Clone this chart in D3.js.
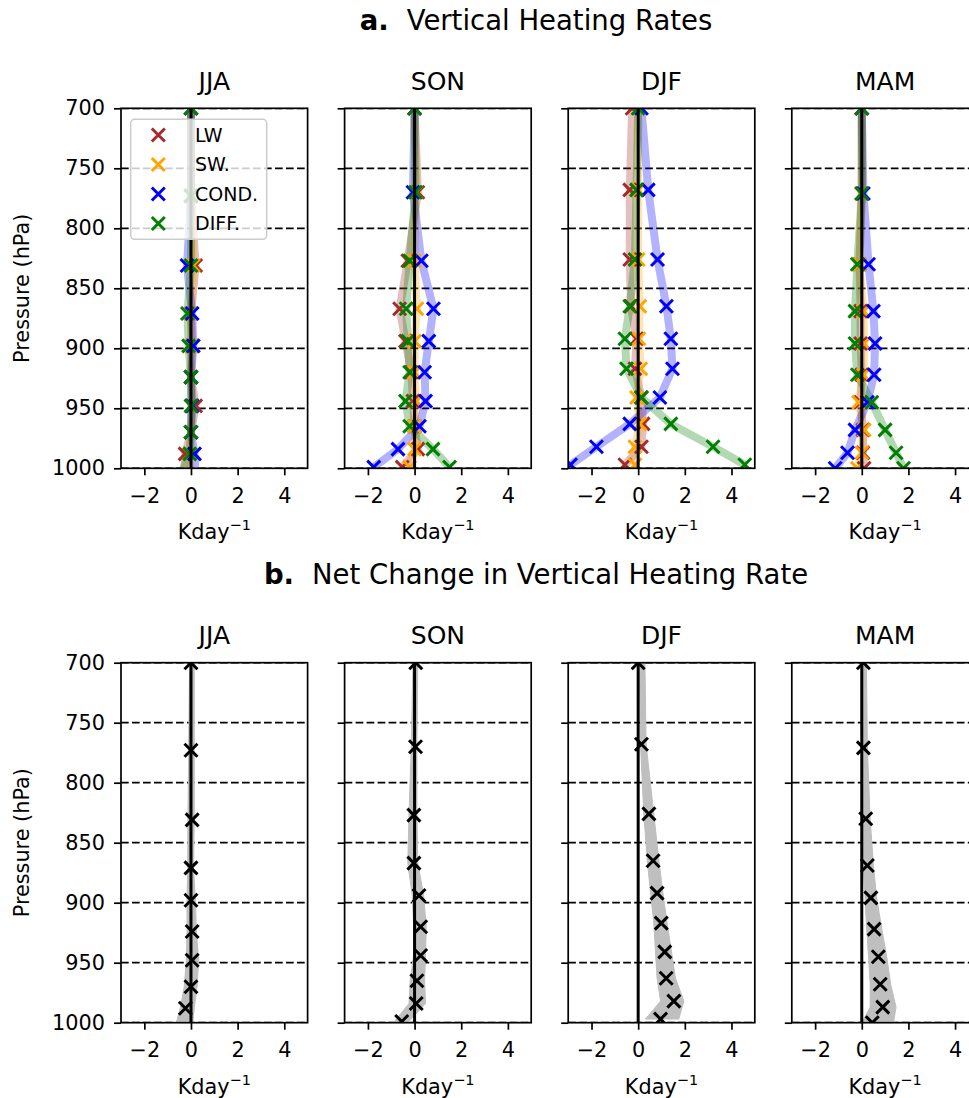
<!DOCTYPE html>
<html><head><meta charset="utf-8">
<script src="https://cdn.jsdelivr.net/npm/d3@7"></script>
<style>body{margin:0;background:#fff} svg{display:block;font-family:"DejaVu Sans",sans-serif}</style>
</head><body><svg id="c" width="969" height="1098"></svg>
<script>
// ---------- data ----------
const seasons = ["JJA", "SON", "DJF", "MAM"];
const yTicks = [700, 750, 800, 850, 900, 950, 1000];
const xTicks = [-2, 0, 2, 4];
const seriesNames = ["LW", "SW.", "COND.", "DIFF."];
const seriesColors = ["#a52a2a", "#ffa500", "#0000ff", "#008000"];

// pressure of each model level (hPa), per season
const presJJA = [700, 773, 831, 871, 898, 924, 948, 970, 988, 1008];
const presSON = [700, 770, 827, 867, 894, 920, 944, 965, 984, 999];
const presDJF = [700, 768, 826, 865, 892, 917, 941, 963, 982, 997];
const presMAM = [700, 771, 830, 869, 896, 922, 945, 968, 987, 1000];

// heating rates (K/day)
const lwJJA   = [0, 0, 0.2, 0, 0.05, 0, 0.2, 0, -0.25, -0.3];
const swJJA   = [0, 0, 0.1, 0, 0, 0, 0.05, 0, -0.05, 0];
const condJJA = [0, 0, -0.17, 0.05, 0.1, 0, 0.05, 0, 0.15, 0.2];
const diffJJA = [0, 0, 0, -0.15, -0.1, 0, 0, 0, -0.05, -0.5];

const lwSON   = [0, 0.14, -0.29, -0.64, -0.39, -0.14, -0.07, 0, 0.14, -0.53];
const swSON   = [0, 0.05, 0, 0.1, 0, 0, 0.07, 0, 0, -0.21];
const condSON = [0, -0.07, 0.29, 0.81, 0.61, 0.43, 0.47, 0.21, -0.71, -1.75];
const diffSON = [0, 0.04, -0.21, -0.36, -0.29, -0.21, -0.39, -0.21, 0.79, 1.5];

const lwDJF   = [-0.26, -0.36, -0.36, -0.31, -0.07, -0.14, 0.14, 0.21, 0.14, -0.57];
const swDJF   = [0, 0, 0, 0.07, 0.03, 0.11, -0.07, 0.07, -0.14, -0.14];
const condDJF = [0.14, 0.43, 0.83, 1.21, 1.4, 1.47, 0.93, -0.36, -1.79, -2.9];
const diffDJF = [0, -0.07, -0.14, -0.36, -0.57, -0.5, 0.14, 1.4, 3.21, 4.57];

const lwMAM   = [0, 0, -0.1, -0.05, -0.05, 0, -0.05, 0.05, 0.05, 0.1];
const swMAM   = [0, 0, -0.1, 0.07, 0.1, 0.07, -0.14, 0.1, 0, -0.19];
const condMAM = [0, 0.07, 0.29, 0.5, 0.57, 0.53, 0.24, -0.29, -0.61, -1.14];
const diffMAM = [0, 0, -0.19, -0.29, -0.29, -0.19, 0.43, 1.0, 1.47, 1.79];

// net change (K/day) and its spread
const netJJA = [0, 0, 0.05, 0, 0, 0.05, 0.05, 0, -0.24, -0.7];
const loJJA  = [-0.06, -0.1, -0.13, -0.14, -0.17, -0.17, -0.2, -0.29, -0.46, -0.74];
const hiJJA  = [0.14, 0.14, 0.14, 0.11, 0.19, 0.23, 0.33, 0.26, 0.14, 0.04];

const netSON = [0.05, 0.04, -0.03, -0.03, 0.19, 0.26, 0.26, 0.1, 0.07, -0.55];
const loSON  = [-0.07, -0.14, -0.24, -0.29, -0.1, -0.04, -0.04, -0.19, -0.24, -0.86];
const hiSON  = [0.14, 0.1, 0.1, 0.14, 0.39, 0.5, 0.47, 0.43, 0.47, -0.24];

const netDJF = [0, 0.14, 0.46, 0.64, 0.81, 0.99, 1.14, 1.2, 1.53, 0.96];
const loDJF  = [0.07, 0.1, 0.24, 0.39, 0.53, 0.67, 0.74, 0.81, 0.96, 0.31];
const hiDJF  = [0.29, 0.34, 0.67, 0.89, 1.06, 1.24, 1.43, 1.6, 1.96, 1.74];

const netMAM = [0.07, 0.07, 0.17, 0.24, 0.39, 0.53, 0.71, 0.79, 0.9, 0.45];
const loMAM  = [0, 0, 0.04, 0.07, 0.14, 0.21, 0.29, 0.36, 0.36, 0.0];
const hiMAM  = [0.2, 0.24, 0.36, 0.5, 0.64, 0.86, 1.07, 1.24, 1.47, 1.36];

const pres = [presJJA, presSON, presDJF, presMAM];
const comps = [
  [lwJJA, swJJA, condJJA, diffJJA],
  [lwSON, swSON, condSON, diffSON],
  [lwDJF, swDJF, condDJF, diffDJF],
  [lwMAM, swMAM, condMAM, diffMAM]
];
const nets = [netJJA, netSON, netDJF, netMAM];
const los = [loJJA, loSON, loDJF, loMAM];
const his = [hiJJA, hiSON, hiDJF, hiMAM];

// ---------- layout ----------
const svg = d3.select("#c");
const left0 = 121, step = 223.6, pw = 186.6, ph = 360;
const rowTops = [108.3, 662.7];
const titles = [["a.", "Vertical Heating Rates"], ["b.", "Net Change in Vertical Heating Rate"]];

const x = d3.scaleLinear().domain([-3, 5]).range([0, pw]);
const y = d3.scaleLinear().domain([700, 1000]).range([0, ph]);
const fmt = d => d < 0 ? "\u2212" + Math.abs(d) : String(d);
const xMark = "M-6.5,-6.5L6.5,6.5M-6.5,6.5L6.5,-6.5";

rowTops.forEach((top, r) => {
  // row title
  const t = svg.append("text").attr("x", 536).attr("y", top - 78.5)
    .attr("text-anchor", "middle").attr("font-size", 27.5).attr("fill", "#000");
  t.append("tspan").attr("font-weight", "bold").text(titles[r][0]);
  t.append("tspan").attr("dx", 18).text(titles[r][1]);

  seasons.forEach((s, i) => {
    const g = svg.append("g").attr("transform", `translate(${left0 + i * step},${top})`);
    const cid = `clip${r}${i}`;
    g.append("clipPath").attr("id", cid).append("rect").attr("width", pw).attr("height", ph);
    const plot = g.append("g").attr("clip-path", `url(#${cid})`);

    // dashed grid
    plot.selectAll("line.grid").data(yTicks).join("line").attr("class", "grid")
      .attr("x1", 0).attr("x2", pw).attr("y1", d => y(d)).attr("y2", d => y(d))
      .attr("stroke", "#000").attr("stroke-width", 1.8).attr("stroke-dasharray", "7.7,3.3");

    const P = pres[i];
    if (r === 0) {
      const line = d3.line().x(d => x(d[1])).y(d => y(d[0]));
      comps[i].forEach((vals, k) => {
        plot.append("path").datum(P.map((p, j) => [p, vals[j]])).attr("d", line)
          .attr("fill", "none").attr("stroke", seriesColors[k]).attr("stroke-opacity", 0.3)
          .attr("stroke-width", 8).attr("stroke-linejoin", "round");
      });
      comps[i].forEach((vals, k) => {
        plot.selectAll(null).data(P.map((p, j) => [p, vals[j]])).join("path")
          .attr("d", xMark).attr("transform", d => `translate(${x(d[1])},${y(d[0])})`)
          .attr("fill", "none").attr("stroke", seriesColors[k]).attr("stroke-width", 3);
      });
    } else {
      const area = d3.area().y(d => y(d.p)).x0(d => x(d.lo)).x1(d => x(d.hi));
      const rows = P.map((p, j) => ({p, v: nets[i][j], lo: los[i][j], hi: his[i][j]}));
      plot.append("path").datum(rows).attr("d", area).attr("fill", "#bfbfbf").attr("stroke", "#bfbfbf").attr("stroke-width", 1);
      plot.selectAll(null).data(rows).join("path")
        .attr("d", xMark).attr("transform", d => `translate(${x(d.v)},${y(d.p)})`)
        .attr("fill", "none").attr("stroke", "#000").attr("stroke-width", 3);
    }
    // zero line
    plot.append("line").attr("x1", x(0)).attr("x2", x(0)).attr("y1", 0).attr("y2", ph)
      .attr("stroke", "#000").attr("stroke-width", 3);

    // axes
    const ax = g.append("g").attr("transform", `translate(0,${ph})`)
      .call(d3.axisBottom(x).tickValues(xTicks).tickSize(7).tickPadding(13).tickFormat(fmt));
    const ay = g.append("g")
      .call(d3.axisLeft(y).tickValues(yTicks).tickSize(7).tickPadding(9).tickFormat(i === 0 ? d => d : () => ""));
    [ax, ay].forEach(a => {
      a.select(".domain").remove();
      a.selectAll(".tick line").attr("stroke", "#000").attr("stroke-width", 1.7);
      a.selectAll("text").attr("font-size", 20.8).attr("fill", "#000").attr("font-family", "DejaVu Sans");
    });
    // frame
    g.append("rect").attr("width", pw).attr("height", ph).attr("fill", "none")
      .attr("stroke", "#000").attr("stroke-width", 1.7);

    // panel title
    g.append("text").attr("x", pw / 2).attr("y", -18.5).attr("text-anchor", "middle")
      .attr("font-size", 25).attr("fill", "#000").text(s);
    // x label
    const xl = g.append("text").attr("x", pw / 2).attr("y", ph + 71).attr("text-anchor", "middle")
      .attr("font-size", 20.8).attr("fill", "#000");
    xl.append("tspan").text("Kday");
    xl.append("tspan").attr("font-size", 14.5).attr("dy", -9).text("\u22121");

    if (i === 0) {
      g.append("text").attr("transform", `translate(${29 - left0},${ph / 2}) rotate(-90)`)
        .attr("text-anchor", "middle").attr("font-size", 20.8).attr("fill", "#000").text("Pressure (hPa)");
    }

    // legend
    if (r === 0 && i === 0) {
      const lg = g.append("g").attr("transform", "translate(9.7,11)");
      lg.append("rect").attr("width", 136).attr("height", 120).attr("rx", 4)
        .attr("fill", "#fff").attr("fill-opacity", 0.8).attr("stroke", "#cccccc").attr("stroke-width", 1.5);
      seriesNames.forEach((n, k) => {
        const yy = 15.7 + k * 29.5;
        lg.append("path").attr("d", xMark).attr("transform", `translate(27.6,${yy})`)
          .attr("fill", "none").attr("stroke", seriesColors[k]).attr("stroke-width", 3);
        lg.append("text").attr("x", 64.3).attr("y", yy).attr("dy", "0.36em")
          .attr("font-size", 19).attr("fill", "#000").text(n);
      });
    }
  });
});
</script>
</body></html>
